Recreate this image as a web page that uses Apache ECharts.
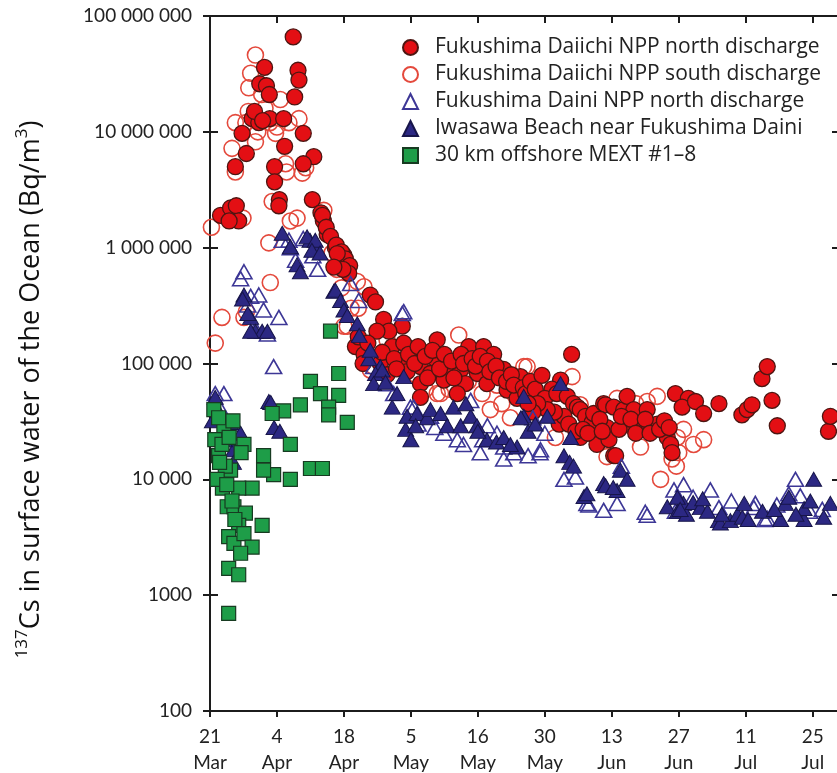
<!DOCTYPE html>
<html>
<head>
<meta charset="utf-8">
<title>137Cs in surface water of the Ocean</title>
<script src="https://cdn.jsdelivr.net/npm/echarts@6/dist/echarts.min.js"></script>
<style>
  html, body { margin: 0; padding: 0; background: #ffffff; }
  #chart { width: 837px; height: 773px; }
</style>
</head>
<body>
<div id="chart"></div>
<script>
// Date axis: day 0 = 21 March, one labelled tick every 14 days
const dateTickLabels = ['21\nMar', '4\nApr', '18\nApr', '5\nMay', '16\nMay', '30\nMay', '13\nJun', '27\nJun', '11\nJul', '25\nJul'];
const dayStep = 14;
const lastDay = 131.5;

// Activity axis (log scale, Bq/m3), one label per decade from 100 upward
const valueTickLabels = ['100', '1000', '10 000', '100 000', '1 000 000', '10 000 000', '100 000 000'];

const seriesNames = [
  'Fukushima Daiichi NPP north discharge',
  'Fukushima Daiichi NPP south discharge',
  'Fukushima Daini NPP north discharge',
  'Iwasawa Beach near Fukushima Daini',
  '30 km offshore MEXT #1\u20138'
];

// [day since 21 Mar, Bq/m3]
const northDischarge = [
  [2.2, 1.9e6], [4.3, 2.2e6], [5.5, 2.3e6], [6.0, 1.7e6], [4.0, 1.7e6],
  [6.7, 9.7e6], [8.8, 1.3e7], [10.2, 1.2e7], [9.3, 1.5e7], [12.5, 1.3e7], [15.4, 1.3e7], [11.0, 1.25e7],
  [11.4, 3.6e7], [10.4, 2.6e7], [11.8, 2.5e7], [12.4, 2.1e7], [17.7, 2.0e7],
  [17.4, 6.6e7], [18.4, 3.4e7], [18.6, 2.8e7],
  [19.5, 9.7e6], [15.6, 7.5e6], [7.6, 6.5e6], [21.7, 6.1e6], [19.5, 5.3e6], [5.3, 5.0e6], [13.5, 5.0e6],
  [13.5, 3.7e6], [14.5, 2.6e6], [14.4, 2.3e6], [21.4, 2.6e6], [23.2, 2.0e6], [23.7, 1.7e6], [24.5, 1.3e6],
  [26.2, 1.0e6], [28.0, 8.6e5], [23.5, 1.9e6], [24.3, 1.5e6], [25.2, 1.25e6], [26.4, 1.05e6], [27.5, 9.2e5],
  [28.3, 8.0e5], [29.2, 7.0e5], [29.0, 6.0e5], [27.8, 6.5e5], [26.6, 8.9e5], [25.9, 6.8e5],
  [33.5, 3.9e5], [34.6, 3.4e5], [36.3, 2.4e5], [40.2, 2.1e5], [37.4, 1.9e5], [34.9, 1.9e5], [47.5, 1.6e5],
  [30.4, 1.4e5], [38.1, 1.4e5], [42.3, 1.3e5], [32.2, 1.2e5], [54.1, 1.4e5], [57.2, 1.4e5], [59.3, 1.2e5],
  [47.1, 1.1e5], [39.8, 1.07e5], [35.6, 1.0e5], [44.0, 9.4e4], [49.6, 9.4e4], [52.4, 8.8e4], [41.2, 8.5e4],
  [46.1, 8.2e4], [55.9, 8.2e4], [61.4, 8.9e4], [64.9, 7.7e4], [53.4, 6.7e4], [57.9, 6.7e4], [44.0, 6.7e4],
  [48.9, 7.2e4], [62.1, 5.9e4], [51.7, 5.5e4], [64.2, 5.0e4], [44.0, 5.1e4],
  [31.0, 1.7e5], [32.0, 1.0e5], [33.0, 1.5e5], [36.0, 1.25e5], [37.0, 8.0e4], [38.5, 1.1e5], [39.0, 9.0e4],
  [40.5, 1.5e5], [41.5, 1.2e5], [42.8, 1.0e5], [43.5, 1.4e5], [45.0, 1.15e5], [45.5, 7.5e4], [46.5, 1.3e5],
  [48.0, 9.0e4], [49.0, 1.2e5], [50.5, 1.05e5], [51.0, 7.5e4], [52.5, 1.2e5], [53.0, 1.0e5], [54.8, 1.1e5],
  [55.5, 9.5e4], [56.5, 1.15e5], [58.0, 1.05e5], [58.5, 8.5e4], [59.8, 9.5e4], [60.5, 7.5e4], [62.0, 7.0e4],
  [63.0, 8.0e4], [63.5, 6.5e4], [65.5, 6.2e4], [66.0, 5.5e4], [67.0, 7.0e4], [68.0, 6.0e4],
  [75.6, 1.2e5], [69.4, 7.9e4], [73.3, 7.2e4], [71.5, 6.0e4], [70.0, 5.0e4], [72.5, 5.5e4], [74.7, 5.2e4],
  [76.0, 4.5e4], [76.8, 4.2e4], [77.4, 4.0e4], [78.5, 3.5e4], [79.9, 3.1e4], [80.2, 3.7e4], [82.3, 4.5e4],
  [82.7, 4.4e4], [83.0, 2.8e4], [84.4, 4.2e4], [86.5, 4.0e4], [87.2, 5.2e4], [87.5, 3.0e4], [88.6, 4.0e4],
  [91.4, 4.0e4], [93.5, 3.0e4], [90.0, 2.7e4], [77.4, 2.3e4], [80.9, 2.3e4], [80.9, 2.0e4], [83.4, 2.2e4],
  [84.4, 1.6e4], [84.8, 1.6e4], [95.6, 2.3e4], [96.3, 2.0e4], [96.6, 1.7e4], [97.3, 5.5e4], [100.0, 5.0e4],
  [98.7, 4.2e4], [101.5, 4.7e4], [103.2, 3.7e4], [106.4, 4.5e4], [111.2, 3.6e4], [112.3, 4.0e4], [113.3, 4.4e4],
  [115.4, 7.4e4], [116.5, 9.4e4], [117.5, 4.8e4], [118.6, 2.9e4], [129.3, 2.6e4], [129.7, 3.5e4],
  [73.0, 3.0e4], [74.0, 3.5e4], [75.0, 3.0e4], [76.5, 2.6e4], [78.0, 2.7e4], [79.0, 2.5e4], [81.5, 3.3e4],
  [82.0, 2.6e4], [85.5, 2.7e4], [86.0, 3.5e4], [88.0, 3.3e4], [89.0, 2.5e4], [91.0, 3.3e4], [92.0, 2.5e4],
  [94.0, 2.7e4], [95.0, 3.2e4], [96.0, 2.8e4], [72.0, 3.8e4], [70.5, 4.0e4], [68.5, 4.5e4], [67.5, 3.8e4],
  [66.5, 4.5e4]
];

const southDischarge = [
  [0.3, 1.5e6], [9.5, 4.6e7], [8.5, 3.2e7], [8.1, 2.4e7], [10.8, 2.1e7], [14.7, 1.9e7], [5.3, 1.2e7],
  [18.6, 1.3e7], [9.5, 8.2e6], [13.7, 9.7e6], [4.6, 7.2e6], [15.8, 5.3e6], [19.3, 4.4e6], [20.0, 4.9e6],
  [5.3, 4.5e6], [18.2, 1.8e6], [16.8, 1.7e6], [6.9, 1.8e6], [12.3, 1.1e6], [13.0, 2.5e6], [7.5, 1.2e7],
  [12.5, 1.2e7], [14.0, 1.1e7], [10.0, 1.0e7], [8.0, 1.5e7], [11.5, 1.6e7], [16.5, 1.2e7], [16.0, 4.5e6],
  [12.6, 5.0e5], [2.5, 2.5e5], [7.1, 2.5e5], [7.6, 2.8e5], [1.1, 1.5e5],
  [28.7, 2.1e5], [30.8, 5.1e5], [32.2, 4.6e5], [28.0, 2.1e5], [34.2, 9.4e4], [33.5, 8.8e4], [52.0, 1.76e5],
  [47.5, 5.5e4], [48.2, 5.5e4], [56.9, 5.5e4], [58.6, 4.0e4], [62.8, 3.4e4], [65.6, 9.4e4], [66.3, 9.4e4],
  [37.0, 1.6e5], [40.0, 1.2e5], [43.0, 8.0e4], [45.0, 6.0e4], [50.0, 6.0e4], [54.0, 7.0e4], [60.0, 6.5e4],
  [61.0, 4.5e4], [31.0, 3.0e5], [26.5, 6.5e5], [23.8, 2.1e6], [25.5, 9.0e5], [27.5, 4.5e5], [29.5, 3.0e5],
  [75.7, 7.7e4], [72.2, 2.3e4], [77.4, 4.4e4], [83.0, 1.57e4], [85.1, 5.0e4], [91.4, 4.7e4], [93.5, 5.2e4],
  [94.2, 1.0e4], [97.7, 2.3e4], [99.0, 2.7e4], [101.1, 2.0e4], [103.2, 2.2e4], [90.0, 1.9e4], [96.6, 1.5e4],
  [98.0, 1.7e4], [97.5, 1.3e4], [80.0, 3.3e4], [87.0, 3.6e4], [89.0, 4.5e4]
];

const dainiNorth = [
  [1.1, 5.5e4], [2.9, 5.5e4], [2.0, 4.2e4], [4.8, 3.0e4], [7.1, 6.2e5], [6.4, 5.4e5], [8.5, 3.8e5],
  [10.2, 3.9e5], [11.2, 2.9e5], [14.4, 2.5e5], [7.9, 3.2e5], [12.0, 1.8e5], [13.3, 9.4e4], [9.5, 2.0e5],
  [15.1, 1.16e6], [16.8, 1.0e6], [16.5, 1.16e6], [17.9, 7.8e5], [19.5, 1.2e6], [21.5, 8.5e5], [22.5, 6.5e5],
  [29.4, 4.9e5], [31.1, 3.5e5], [40.2, 2.7e5], [40.5, 2.8e5], [34.2, 9.4e4], [37.0, 6.7e4], [38.4, 5.5e4],
  [41.9, 4.2e4], [42.6, 4.2e4], [46.1, 3.5e4], [48.9, 2.5e4], [51.7, 2.2e4], [54.5, 4.8e4], [56.5, 1.7e4],
  [61.4, 1.9e4], [63.5, 1.7e4], [58.0, 2.9e4], [43.5, 3.0e4], [47.0, 2.8e4], [53.0, 2.0e4], [57.0, 2.2e4],
  [60.0, 2.5e4], [61.4, 1.5e4], [69.1, 1.8e4], [70.0, 2.5e4], [74.0, 1.0e4], [67.5, 3.4e4], [69.0, 1.7e4],
  [66.5, 1.6e4],
  [76.4, 1.05e4], [78.8, 6.2e3], [82.3, 5.4e3], [85.1, 6.2e3], [91.0, 5.2e3], [97.0, 8.1e3], [86.0, 1.3e4],
  [79.2, 6.0e3], [91.4, 4.9e3], [97.3, 5.3e3], [106.4, 5.7e3], [113.7, 5.7e3], [116.5, 4.6e3], [125.4, 5.3e3],
  [99.0, 9.0e3], [104.6, 8.1e3], [122.4, 1.0e4], [116.0, 4.5e3], [123.4, 7.2e3], [114.0, 6.2e3], [97.3, 6.2e3],
  [101.0, 7.0e3], [109.0, 6.5e3], [118.5, 6.0e3], [121.0, 7.5e3], [128.0, 5.5e3]
];

const iwasawaBeach = [
  [0.5, 3.2e4], [1.3, 4.2e4], [1.1, 5.1e4], [4.3, 3.1e4], [6.4, 2.5e4], [4.9, 1.8e4], [4.9, 1.4e4],
  [3.0, 2.2e4], [12.3, 4.7e4], [12.7, 4.6e4], [13.4, 2.8e4], [14.6, 2.6e4], [7.1, 3.9e5], [6.8, 3.6e5],
  [8.5, 2.5e5], [9.5, 1.9e5], [10.9, 1.9e5], [12.0, 1.9e5], [8.5, 1.9e5], [7.9, 2.7e5], [15.1, 1.33e6],
  [16.8, 1.02e6], [18.2, 7.1e5], [18.9, 6.2e5], [20.9, 1.16e6], [21.9, 1.0e6], [20.3, 1.24e6], [22.0, 1.16e6],
  [21.3, 9.5e5], [23.0, 9.0e5],
  [25.9, 4.2e5], [26.2, 4.3e5], [27.3, 3.5e5], [28.0, 2.9e5], [28.7, 2.6e5], [30.8, 2.2e5], [31.2, 1.75e5],
  [33.2, 1.1e5], [33.5, 1.3e5], [35.6, 9.4e4], [34.6, 8.2e4], [36.0, 8.8e4], [34.2, 6.7e4], [36.7, 6.9e4],
  [38.1, 4.2e4], [39.1, 5.5e4], [40.5, 7.7e4], [40.9, 2.7e4], [41.2, 3.5e4], [43.3, 3.7e4], [45.4, 3.4e4],
  [46.1, 4.0e4], [48.2, 3.7e4], [49.6, 2.9e4], [43.0, 2.9e4], [52.4, 2.9e4], [54.5, 3.5e4], [55.8, 2.9e4],
  [57.9, 2.2e4], [59.9, 2.1e4], [61.4, 2.3e4], [64.2, 1.9e4], [65.6, 3.5e4], [42.0, 2.2e4], [50.9, 4.2e4],
  [53.5, 4.5e4], [56.0, 2.6e4], [62.8, 2.0e4], [66.5, 2.6e4], [65.0, 3.4e4], [65.6, 5.2e4], [68.0, 3.0e4],
  [73.3, 6.7e4], [70.5, 3.5e4], [75.4, 2.3e4], [74.0, 1.6e4], [75.2, 1.4e4], [76.0, 1.3e4], [78.2, 7.1e3],
  [78.8, 7.5e3], [82.3, 9.2e3], [82.7, 8.8e3], [85.8, 1.2e4], [85.1, 8.0e3], [87.2, 1.0e4], [84.3, 8.5e3],
  [95.6, 5.8e3], [97.7, 5.3e3], [99.0, 6.2e3], [99.6, 5.0e3], [97.7, 7.0e3], [98.3, 5.5e3], [101.0, 6.3e3],
  [102.5, 5.7e3], [106.3, 4.4e3], [106.7, 4.2e3], [108.8, 4.4e3], [110.3, 5.0e3], [111.3, 4.7e3], [111.7, 6.2e3],
  [115.5, 5.3e3], [120.3, 6.2e3], [121.0, 7.0e3], [119.3, 4.5e3], [124.2, 4.5e3], [124.2, 5.6e3], [126.2, 1.0e4],
  [128.3, 4.7e3], [129.7, 6.2e3], [104.0, 5.3e3], [107.0, 5.0e3], [112.5, 4.5e3], [118.0, 5.5e3], [122.5, 5.0e3],
  [125.5, 6.5e3], [103.0, 6.8e3]
];

const offshoreMext = [
  [25.2, 1.9e5], [26.9, 8.2e4], [21.0, 7.0e4], [23.1, 5.5e4], [26.9, 5.3e4], [18.9, 4.4e4], [15.4, 3.9e4],
  [13.0, 3.7e4], [24.8, 4.2e4], [24.8, 3.6e4], [28.7, 3.1e4], [16.8, 2.0e4], [11.2, 1.6e4], [7.1, 2.0e4],
  [21.0, 1.24e4], [23.5, 1.24e4], [16.8, 1.0e4], [13.3, 1.1e4], [11.2, 1.2e4], [8.8, 8.4e3], [6.0, 8.4e3],
  [2.9, 2.6e4], [1.8, 1.6e4], [4.3, 1.2e4], [2.6, 8.4e3], [3.6, 5.8e3], [5.0, 5.8e3], [7.4, 5.1e3],
  [6.0, 4.0e3], [10.9, 4.0e3], [3.9, 3.2e3], [5.0, 2.8e3], [7.1, 3.4e3], [8.8, 2.6e3], [6.4, 2.3e3],
  [3.9, 1.7e3], [6.0, 1.5e3], [3.9, 695], [0.8, 4.0e4], [1.8, 3.4e4], [1.0, 2.2e4], [2.5, 2.0e4],
  [3.2, 1.3e4], [1.5, 1.0e4], [4.8, 3.2e4], [6.5, 1.7e4], [4.0, 2.3e4], [2.0, 1.4e4], [3.5, 9.0e3],
  [5.2, 4.5e3], [4.6, 6.5e3]
];

const axisColor = '#1c1c1c';
const tickFont = { fontFamily: 'Lato', fontSize: 19, color: '#222' };

function dateLabel(v) {
  const i = v / dayStep;
  return Number.isInteger(i) && dateTickLabels[i] ? dateTickLabels[i] : '';
}
function valueLabel(v) {
  const i = Math.round(Math.log10(v)) - 2;
  return valueTickLabels[i] || '';
}

const frameLine = { show: true, onZero: false, lineStyle: { color: axisColor, width: 2 } };

const chart = echarts.init(document.getElementById('chart'), null, { renderer: 'canvas' });
chart.setOption({
  animation: false,
  backgroundColor: '#ffffff',
  grid: { left: 210, right: -2, top: 16, bottom: 62, containLabel: false, outerBoundsMode: 'none' },
  legend: {
    orient: 'vertical',
    left: 397,
    top: 32,
    itemWidth: 15,
    itemHeight: 15,
    itemGap: 6,
    selectedMode: false,
    data: seriesNames,
    textStyle: { fontFamily: 'Open Sans', fontSize: 21, color: '#222', lineHeight: 20, padding: [0, 0, 0, 12] }
  },
  xAxis: [
    {
      type: 'value', min: 0, max: lastDay, interval: dayStep, position: 'bottom',
      axisLine: frameLine,
      axisTick: { show: true, length: 6, lineStyle: { color: axisColor, width: 2 } },
      axisLabel: Object.assign({ formatter: dateLabel, margin: 13, lineHeight: 26, showMaxLabel: false, hideOverlap: false }, tickFont),
      splitLine: { show: false }
    },
    {
      type: 'value', min: 0, max: lastDay, interval: dayStep, position: 'top',
      axisLine: frameLine,
      axisTick: { show: true, inside: true, length: 7, lineStyle: { color: axisColor, width: 2 } },
      axisLabel: { show: false },
      splitLine: { show: false }
    }
  ],
  yAxis: [
    {
      type: 'log', logBase: 10, min: 100, max: 1e8, position: 'left',
      axisLine: frameLine,
      axisTick: { show: true, length: 7, lineStyle: { color: axisColor, width: 2 } },
      axisLabel: Object.assign({ formatter: valueLabel, margin: 18, hideOverlap: false }, tickFont),
      minorTick: { show: false },
      splitLine: { show: false },
      name: '{sup|137}Cs in surface water of the Ocean (Bq/m{sup|3})',
      nameLocation: 'middle',
      nameGap: 162,
      nameTextStyle: {
        fontFamily: 'Open Sans', fontSize: 27, color: '#111', lineHeight: 34,
        padding: [0, 52, 0, 0],
        rich: { sup: { fontFamily: 'Open Sans', fontSize: 17, color: '#111', verticalAlign: 'top', lineHeight: 24 } }
      }
    },
    {
      type: 'log', logBase: 10, min: 100, max: 1e8, position: 'left',
      axisLine: { show: false, onZero: false },
      axisTick: { show: true, inside: true, length: 8, lineStyle: { color: axisColor, width: 2 } },
      axisLabel: { show: false },
      splitLine: { show: false }
    },
    {
      type: 'log', logBase: 10, min: 100, max: 1e8, position: 'right',
      axisLine: frameLine,
      axisTick: { show: true, inside: true, length: 7, lineStyle: { color: axisColor, width: 2 } },
      axisLabel: { show: false },
      splitLine: { show: false }
    }
  ],
  series: [
    {
      name: seriesNames[1], type: 'scatter', data: southDischarge, symbol: 'circle', symbolSize: 16,
      itemStyle: { color: 'rgba(255,255,255,0)', borderColor: '#e4493c', borderWidth: 1.6, opacity: 1 },
      emphasis: { disabled: true }
    },
    {
      name: seriesNames[0], type: 'scatter', data: northDischarge, symbol: 'circle', symbolSize: 16,
      itemStyle: { color: '#e30f14', borderColor: '#4d1612', borderWidth: 1.3, opacity: 1 },
      emphasis: { disabled: true }
    },
    {
      name: seriesNames[2], type: 'scatter', data: dainiNorth, symbol: 'triangle', symbolSize: [16, 14],
      itemStyle: { color: 'rgba(255,255,255,0)', borderColor: '#3d3796', borderWidth: 1.6, opacity: 1 },
      emphasis: { disabled: true }
    },
    {
      name: seriesNames[3], type: 'scatter', data: iwasawaBeach, symbol: 'triangle', symbolSize: [16, 14],
      itemStyle: { color: '#2c2883', borderColor: '#17154a', borderWidth: 1, opacity: 1 },
      emphasis: { disabled: true }
    },
    {
      name: seriesNames[4], type: 'scatter', data: offshoreMext, symbol: 'rect', symbolSize: 14,
      itemStyle: { color: '#1e9d48', borderColor: '#173b21', borderWidth: 1.2, opacity: 1 },
      emphasis: { disabled: true }
    }
  ]
});
</script>
</body>
</html>
